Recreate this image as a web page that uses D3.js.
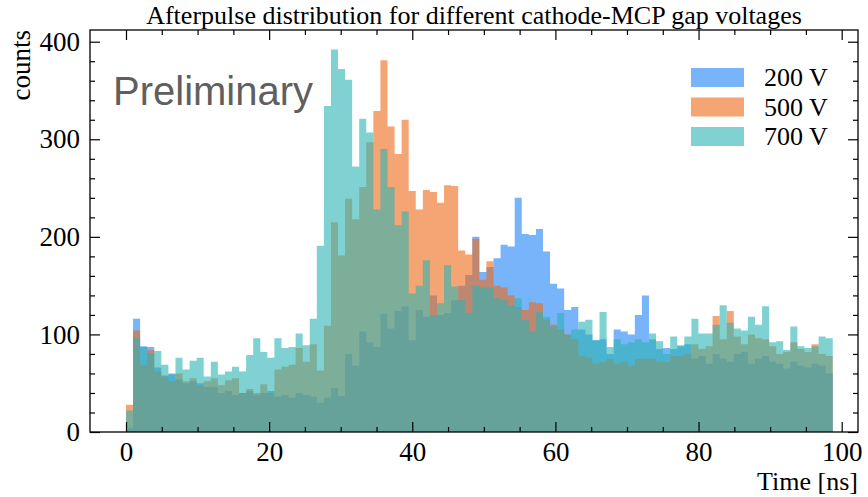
<!DOCTYPE html>
<html>
<head>
<meta charset="utf-8">
<script src="https://cdn.jsdelivr.net/npm/d3@7"></script>
<style>
  body { margin: 0; background: #fff; }
  svg text { font-family: "Liberation Serif", "DejaVu Serif", serif; fill: #000; }
</style>
</head>
<body>
<script>
/* global d3 */

// histogram counts per bin (100 bins between 0 and ~98.75 ns)
const labels = ['200 V', '500 V', '700 V'];
const binRange = [0, 98.75];

const counts200 = [
  4, 116, 88, 87, 66, 58, 60, 54, 50, 52,
  50, 46, 46, 40, 42, 38, 40, 42, 38, 40,
  42, 36, 38, 35, 40, 38, 36, 30, 35, 45,
  37, 80, 68, 103, 92, 87, 121, 106, 124, 129,
  94, 125, 118, 140, 120, 122, 135, 150, 161, 200,
  164, 169, 178, 192, 190, 240, 203, 202, 208, 185,
  152, 147, 125, 128, 105, 100, 94, 95, 80, 105,
  103, 100, 120, 140, 95, 85, 86, 85, 88, 90,
  75, 78, 70, 80, 75, 72, 80, 82, 70, 75,
  78, 72, 70, 65, 72, 68, 66, 70, 68, 60
];
const counts500 = [
  28, 104, 69, 84, 62, 57, 52, 60, 52, 55,
  48, 52, 55, 48, 53, 55, 40, 44, 40, 49,
  40, 64, 67, 69, 86, 72, 90, 63, 109, 215,
  181, 239, 218, 251, 297, 329, 381, 313, 285, 320,
  247, 228, 248, 246, 235, 253, 252, 186, 182, 198,
  156, 175, 150, 148, 140, 128, 125, 133, 132, 115,
  110, 105, 100, 95, 78, 76, 70, 72, 75, 70,
  72, 68, 75, 75, 75, 72, 72, 78, 78, 80,
  90, 85, 88, 119, 95, 124, 98, 90, 100, 96,
  95, 88, 80, 82, 92, 85, 82, 90, 80, 78
];
const counts700 = [
  22, 96, 87, 81, 83, 69, 59, 76, 64, 73,
  76, 57, 72, 59, 62, 67, 62, 79, 96, 82,
  76, 96, 86, 87, 101, 89, 116, 191, 334, 392,
  372, 361, 272, 321, 307, 228, 290, 251, 212, 226,
  142, 150, 176, 120, 132, 171, 149, 135, 122, 150,
  148, 148, 137, 135, 130, 137, 115, 103, 123, 118,
  108, 122, 100, 105, 113, 115, 94, 123, 87, 95,
  90, 92, 95, 92, 101, 93, 80, 98, 89, 98,
  116, 101, 101, 110, 130, 112, 106, 104, 118, 110,
  129, 92, 93, 84, 108, 88, 86, 88, 98, 96
];

const xTicks = [0, 20, 40, 60, 80, 100];
const yTicks = [0, 100, 200, 300, 400];

document.addEventListener('DOMContentLoaded', () => {
  const W = 868, H = 497;
  const margin = {top: 30, right: 10, bottom: 65, left: 90};
  const width = W - margin.left - margin.right;
  const height = H - margin.top - margin.bottom;

  const colors = ['#1e82f7', '#ee6916', '#2bb4b4'];
  const alpha = 0.6;

  const xScale = d3.scaleLinear().domain([-5.03, 102.28]).range([0, width]);
  const yScale = d3.scaleLinear().domain([0, 412]).range([height, 0]);

  const svg = d3.select('body').append('svg')
    .attr('width', W)
    .attr('height', H);

  svg.append('text')
    .attr('x', margin.left + width / 2)
    .attr('y', 24)
    .attr('text-anchor', 'middle')
    .style('font-size', '26px')
    .text('Afterpulse distribution for different cathode-MCP gap voltages');

  const g = svg.append('g')
    .attr('transform', `translate(${margin.left},${margin.top})`);

  // bin edges
  const nBins = counts200.length;
  const step = (binRange[1] - binRange[0]) / nBins;
  const edges = d3.range(nBins + 1).map(i => binRange[0] + i * step);

  const area = d3.area()
    .curve(d3.curveStepAfter)
    .x(d => xScale(d.x))
    .y0(yScale(0))
    .y1(d => yScale(d.y));

  [counts200, counts500, counts700].forEach((vals, k) => {
    const pts = edges.map((e, i) => ({x: e, y: vals[Math.min(i, nBins - 1)]}));
    g.append('path')
      .datum(pts)
      .attr('d', area)
      .attr('fill', colors[k])
      .attr('fill-opacity', alpha);
  });

  // "Preliminary" watermark
  g.append('text')
    .attr('x', 23)
    .attr('y', 75)
    .style('font-family', '"Liberation Sans", Arial, sans-serif')
    .style('font-size', '40px')
    .style('fill', '#5f5f5f')
    .text('Preliminary');

  // axes with inward ticks on all four sides
  const minorX = d3.range(0, 101, 5).filter(v => v % 20 !== 0);
  const minorY = d3.range(0, 412, 20).filter(v => v % 100 !== 0);

  const styleAxis = sel => {
    sel.select('.domain').remove();
    sel.selectAll('line').attr('stroke', '#000').attr('stroke-width', 1.2);
    sel.selectAll('text').style('font-size', '27px')
      .style('font-family', '"Liberation Serif", serif');
  };

  g.append('g').attr('transform', `translate(0,${height})`)
    .call(d3.axisBottom(xScale).tickValues(xTicks).tickSize(-10).tickPadding(10))
    .call(styleAxis);
  g.append('g').attr('transform', `translate(0,${height})`)
    .call(d3.axisBottom(xScale).tickValues(minorX).tickSize(-5).tickFormat(''))
    .call(styleAxis);
  g.append('g')
    .call(d3.axisTop(xScale).tickValues(xTicks).tickSize(-10).tickFormat(''))
    .call(styleAxis);
  g.append('g')
    .call(d3.axisTop(xScale).tickValues(minorX).tickSize(-5).tickFormat(''))
    .call(styleAxis);

  g.append('g')
    .call(d3.axisLeft(yScale).tickValues(yTicks).tickSize(-10).tickPadding(10))
    .call(styleAxis);
  g.append('g')
    .call(d3.axisLeft(yScale).tickValues(minorY).tickSize(-5).tickFormat(''))
    .call(styleAxis);
  g.append('g').attr('transform', `translate(${width},0)`)
    .call(d3.axisRight(yScale).tickValues(yTicks).tickSize(-10).tickFormat(''))
    .call(styleAxis);
  g.append('g').attr('transform', `translate(${width},0)`)
    .call(d3.axisRight(yScale).tickValues(minorY).tickSize(-5).tickFormat(''))
    .call(styleAxis);

  g.append('rect')
    .attr('width', width)
    .attr('height', height)
    .attr('fill', 'none')
    .attr('stroke', '#000')
    .attr('stroke-width', 1.3);

  // axis labels
  svg.append('text')
    .attr('transform', `translate(30,${margin.top}) rotate(-90)`)
    .attr('text-anchor', 'end')
    .style('font-size', '27px')
    .text('counts');

  svg.append('text')
    .attr('x', margin.left + width)
    .attr('y', 490)
    .attr('text-anchor', 'end')
    .style('font-size', '26px')
    .text('Time [ns]');

  // legend
  const legend = g.append('g').attr('transform', 'translate(601,38)');
  labels.forEach((lab, k) => {
    const row = legend.append('g').attr('transform', `translate(0,${k * 29.5})`);
    row.append('rect')
      .attr('width', 53)
      .attr('height', 19)
      .attr('fill', colors[k])
      .attr('fill-opacity', alpha);
    row.append('text')
      .attr('x', 73)
      .attr('y', 18)
      .style('font-size', '26px')
      .text(lab);
  });
});
</script>
</body>
</html>
